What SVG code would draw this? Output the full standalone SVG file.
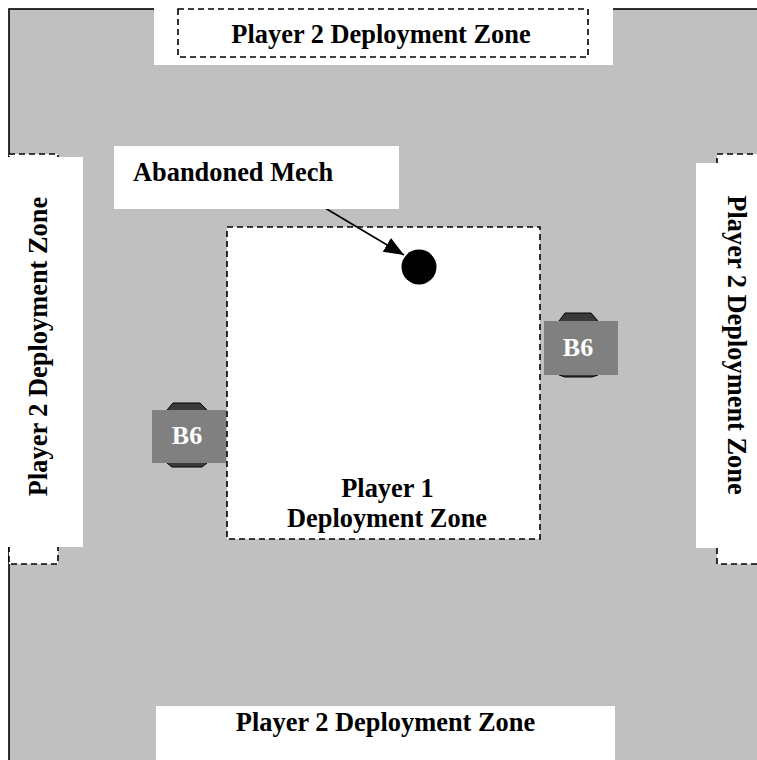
<svg xmlns="http://www.w3.org/2000/svg" width="757" height="760" viewBox="0 0 757 760">
<style>
.lbl{font-family:"Liberation Serif","Times New Roman",serif;font-weight:bold;font-size:26.4px;fill:#000}
.unit{font-family:"Liberation Serif","Times New Roman",serif;font-weight:bold;font-size:26px;fill:#fff}
.dash{fill:#fff;stroke:#000;stroke-width:1.6;stroke-dasharray:6,4}
.cut{fill:#fff;stroke:none}
.tok{fill:#3a3a3a;stroke:#000;stroke-width:1}
.box{fill:#808080;stroke:none}
</style>
<defs>
<marker id="arr" markerUnits="userSpaceOnUse" markerWidth="22" markerHeight="18" refX="20" refY="8" orient="auto">
<path d="M0,0 L20,8 L0,16 Z" fill="#000"/>
</marker>
</defs>
<rect width="757" height="760" fill="#fff"/>
<g id="board">
<rect x="9" y="9" width="760" height="760" fill="#c0c0c0" stroke="#000" stroke-width="1.6"/>
</g>
<g id="zone-left">
<rect class="dash" x="9" y="154" width="49" height="410"/>
<rect class="cut" x="0" y="157" width="83" height="390"/>
<text class="lbl" text-anchor="middle" transform="translate(47,346.5) rotate(-90)">Player 2 Deployment Zone</text>
</g>
<g id="zone-right">
<rect class="dash" x="717" y="154" width="60" height="410"/>
<rect class="cut" x="696" y="163" width="70" height="385"/>
<text class="lbl" text-anchor="middle" transform="translate(728,345) rotate(90)">Player 2 Deployment Zone</text>
</g>
<g id="zone-top">
<rect class="cut" x="154" y="0" width="459" height="65"/>
<rect class="dash" x="178" y="9" width="410" height="48"/>
<text class="lbl" x="381" y="43" text-anchor="middle">Player 2 Deployment Zone</text>
</g>
<g id="zone-bottom">
<rect class="cut" x="156" y="706" width="459" height="60"/>
<text class="lbl" x="385.5" y="731" text-anchor="middle">Player 2 Deployment Zone</text>
</g>
<g id="zone-player1">
<rect class="dash" x="227" y="227" width="313" height="312"/>
<text class="lbl" x="387.5" y="497" text-anchor="middle">Player 1</text>
<text class="lbl" x="387" y="527" text-anchor="middle">Deployment Zone</text>
</g>
<g id="connectors">
<line x1="320" y1="205" x2="404" y2="255" stroke="#000" stroke-width="1.6" marker-end="url(#arr)"/>
</g>
<g id="label-abandoned">
<rect class="cut" x="114" y="146" width="285" height="63"/>
<text class="lbl" x="133" y="181">Abandoned Mech</text>
</g>
<g id="mech">
<circle cx="419" cy="267" r="17.5" fill="#000"/>
</g>
<g id="unit-left">
<polygon class="tok" points="173,403 200,403 207,410 207,463 202,467 172,467 167,463 167,410"/>
<rect class="box" x="152" y="410" width="74" height="53"/>
<text class="unit" x="187" y="444" text-anchor="middle">B6</text>
</g>
<g id="unit-right">
<polygon class="tok" points="565,313 591,313 598,321 598,375 592,377 565,377 559,375 559,321"/>
<rect class="box" x="544" y="321" width="74" height="54"/>
<text class="unit" x="578" y="356" text-anchor="middle">B6</text>
</g>
</svg>
